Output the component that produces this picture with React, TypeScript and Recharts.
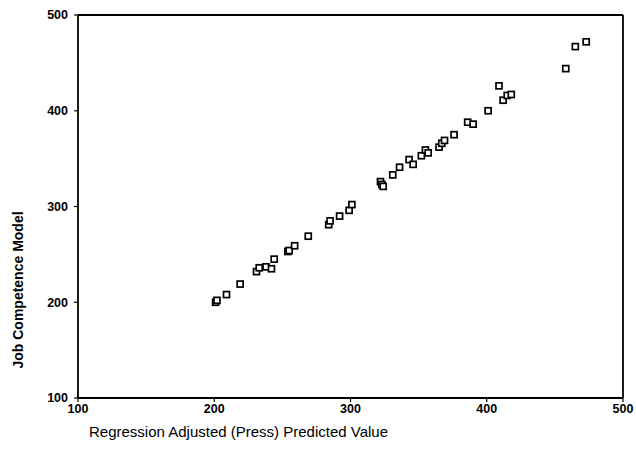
import React from 'react';
import { ScatterChart, Scatter, XAxis, YAxis, ReferenceLine } from 'recharts';

// predicted values (x) and job competence scores (y)
const predictedValues = [
  201, 202, 209, 219, 231, 233, 238, 242, 244, 254, 255, 259, 269, 284, 285, 292, 299, 301,
  322, 323, 324, 331, 336, 343, 346, 352, 355, 357, 365, 367, 369, 376, 386, 390, 401, 409,
  412, 415, 418, 458, 465, 473,
];
const competenceScores = [
  200, 202, 208, 219, 232, 236, 237, 235, 245, 253, 254, 259, 269, 281, 285, 290, 296, 302,
  326, 323, 321, 333, 341, 349, 344, 353, 359, 356, 362, 366, 369, 375, 388, 386, 400, 426,
  411, 416, 417, 444, 467, 472,
];
const axisTicks = [100, 200, 300, 400, 500];

const points = predictedValues.map((x, i) => ({ x, y: competenceScores[i] }));

const font = '"Liberation Sans", Arial, Helvetica, sans-serif';

const SquareMarker = (props: any) => {
  const { cx, cy } = props;
  if (cx == null || cy == null) return null;
  return <rect x={cx - 3} y={cy - 3} width={6} height={6} fill="#fff" stroke="#000" strokeWidth={1.7} />;
};

const XTitle = (props: any) => {
  const vb = props.viewBox || { x: 70, y: 390 };
  return (
    <text x={vb.x + 11} y={vb.y + 39} fontFamily={font} fontSize={15} fill="#000" textAnchor="start">
      Regression Adjusted (Press) Predicted Value
    </text>
  );
};

const YTitle = () => (
  <text
    x={10}
    y={282}
    transform="rotate(-90, 10, 282)"
    fontFamily={font}
    fontSize={14}
    fontWeight="bold"
    fill="#000"
    textAnchor="middle"
    dominantBaseline="central"
  >
    Job Competence Model
  </text>
);

const tickStyle = { fontFamily: font, fontSize: 12.5, fontWeight: 'bold', fill: '#000' };

export default function App() {
  return (
    <div style={{ position: 'absolute', left: 8, top: 8 }}>
      <ScatterChart width={628} height={456} margin={{ top: 7, right: 13, bottom: 0, left: 10 }}>
        <XAxis
          type="number"
          dataKey="x"
          domain={[100, 500]}
          ticks={axisTicks}
          interval={0}
          height={66}
          tick={tickStyle}
          tickSize={4}
          tickMargin={2}
          axisLine={{ stroke: '#000', strokeWidth: 1.8 }}
          tickLine={{ stroke: '#000', strokeWidth: 1.2 }}
          label={<XTitle />}
        />
        <YAxis
          type="number"
          dataKey="y"
          domain={[100, 500]}
          ticks={axisTicks}
          interval={0}
          width={60}
          tick={tickStyle}
          tickSize={4}
          tickMargin={6}
          axisLine={{ stroke: '#000', strokeWidth: 1.8 }}
          tickLine={{ stroke: '#000', strokeWidth: 1.2 }}
          label={<YTitle />}
        />
        <ReferenceLine y={500} stroke="#000" strokeWidth={1.8} />
        <ReferenceLine x={500} stroke="#000" strokeWidth={1.8} />
        <Scatter data={points} shape={<SquareMarker />} isAnimationActive={false} />
      </ScatterChart>
    </div>
  );
}
